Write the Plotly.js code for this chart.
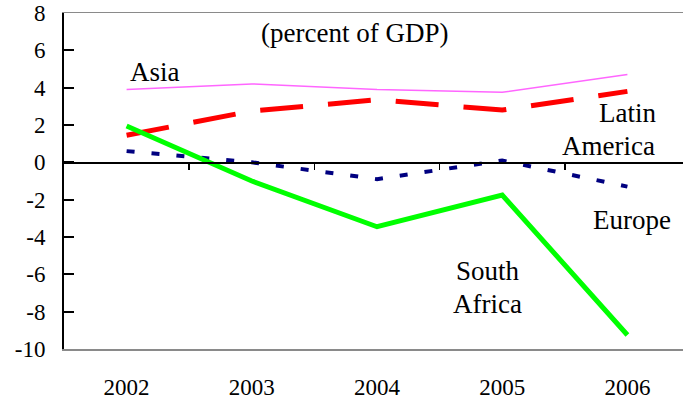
<!DOCTYPE html>
<html>
<head>
<meta charset="utf-8">
<script src="https://cdn.plot.ly/plotly-3.0.1.min.js"></script>
<style>html,body{margin:0;padding:0;background:#fff;}#chart{width:683px;height:402px;}</style>
</head>
<body>
<div id="chart"></div>
<script>
var years = ['2002', '2003', '2004', '2005', '2006'];
var asia = [3.9, 4.2, 3.9, 3.75, 4.7];
var latinAmerica = [1.45, 2.75, 3.35, 2.8, 3.8];
var europe = [0.6, 0.0, -0.9, 0.1, -1.3];
var southAfrica = [1.95, -1.0, -3.45, -1.75, -9.25];
var yTicks = [-10, -8, -6, -4, -2, 0, 2, 4, 6, 8];
var yTickText = ['-10', '-8', '-6', '-4', '-2', '0', '2', '4', '6', '8'];

var xIdx = years.map(function (_, i) { return i; });
var serif = '"Liberation Serif", serif';

var traces = [
  {x: xIdx, y: asia, mode: 'lines', line: {color: '#ff66ff', width: 1.5}, name: 'Asia'},
  {x: xIdx, y: latinAmerica, mode: 'lines', line: {color: '#ff0000', width: 5, dash: '43px,25px'}, name: 'Latin America'},
  {x: xIdx, y: europe, mode: 'lines', line: {color: '#000080', width: 4, dash: '8px,17px'}, name: 'Europe'},
  {x: xIdx, y: southAfrica, mode: 'lines', line: {color: '#00ff00', width: 5}, name: 'South Africa'},
  {x: [null], y: [null], xaxis: 'x2', mode: 'lines', showlegend: false, hoverinfo: 'skip'}
];

var xr = [-0.5, 4.444];
var layout = {
  width: 683, height: 402,
  margin: {l: 64, r: 0, t: 13, b: 53},
  paper_bgcolor: '#fff', plot_bgcolor: '#fff',
  showlegend: false,
  font: {family: serif, color: '#000'},
  xaxis: {
    range: xr, tickvals: xIdx, ticktext: years, ticks: '',
    showgrid: false, zeroline: false,
    showline: true, mirror: true, linecolor: '#8a8a8a', linewidth: 1.5,
    tickfont: {family: serif, size: 23, color: '#000'},
    ticklabelstandoff: 17
  },
  xaxis2: {
    overlaying: 'x', anchor: 'free', position: 10 / 18, side: 'bottom',
    range: xr, tickvals: [0.5, 1.5, 2.5, 3.5], ticks: 'outside', ticklen: 6,
    tickwidth: 1.5, tickcolor: '#000', showticklabels: false,
    showgrid: false, zeroline: false, showline: true, linecolor: '#000', linewidth: 1.5
  },
  yaxis: {
    range: [-10, 8], tickvals: yTicks, ticktext: yTickText, ticks: 'inside', ticklen: 10, tickwidth: 2,
    tickcolor: '#000', showgrid: false, zeroline: false,
    showline: true, linecolor: '#000', linewidth: 2,
    tickfont: {family: serif, size: 23, color: '#000'},
    ticklabelstandoff: 12
  },
  annotations: [
    {text: '(percent of GDP)', x: 1.824, y: 6.93},
    {text: 'Asia', x: 0.227, y: 4.84},
    {text: 'Latin', x: 3.997, y: 2.64},
    {text: 'America', x: 3.845, y: 0.87},
    {text: 'Europe', x: 4.037, y: -3.07},
    {text: 'South', x: 2.887, y: -5.80},
    {text: 'Africa', x: 2.879, y: -7.59}
  ].map(function (a) {
    return {text: a.text, x: a.x, y: a.y, xref: 'x', yref: 'y', showarrow: false,
            xanchor: 'center', yanchor: 'middle',
            font: {family: serif, size: 27, color: '#000'}};
  })
};

Plotly.newPlot('chart', traces, layout, {displayModeBar: false, staticPlot: true});
</script>
</body>
</html>
